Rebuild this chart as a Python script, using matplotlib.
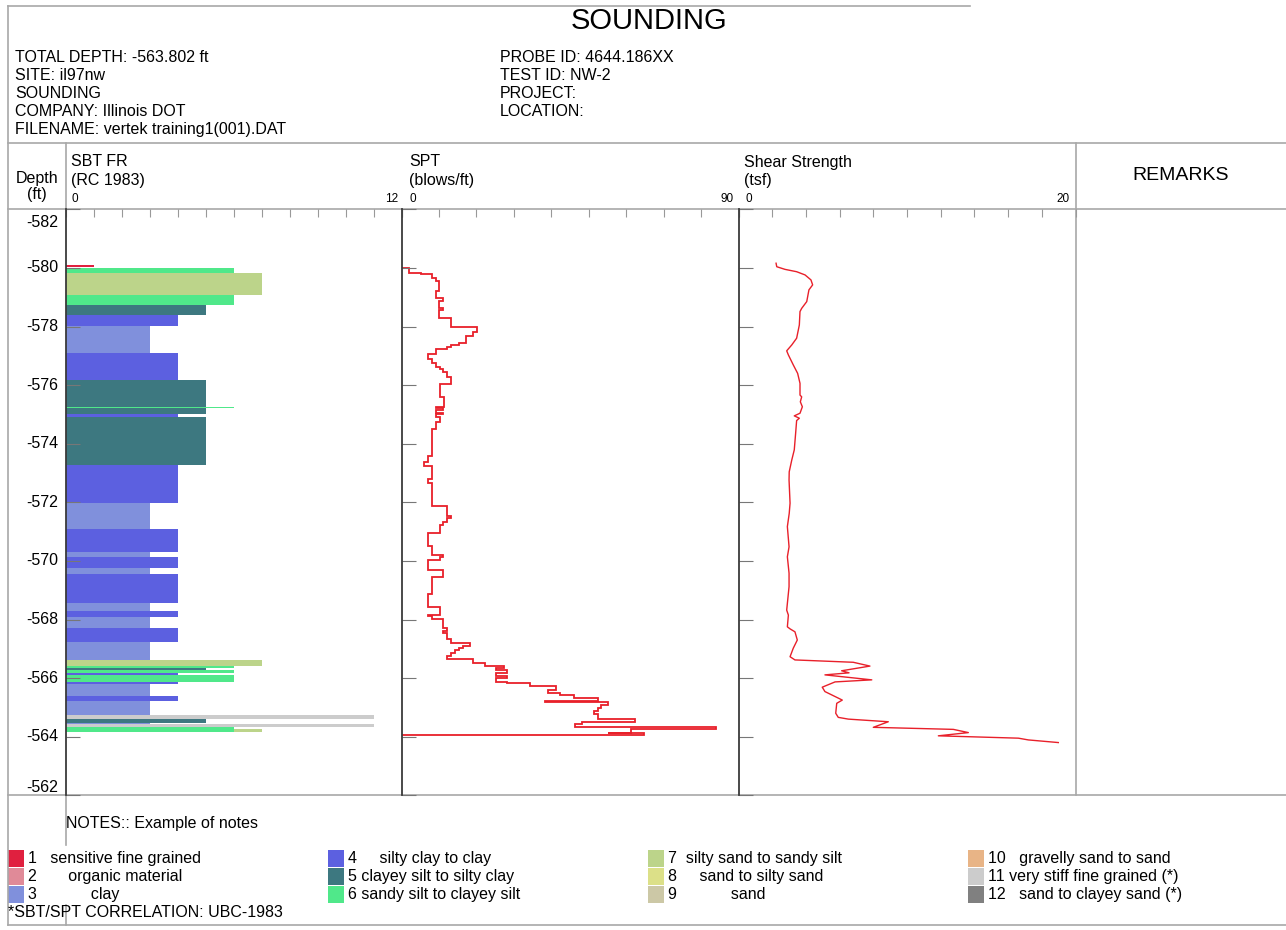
import matplotlib
matplotlib.use("Agg")
import matplotlib.pyplot as plt
from matplotlib.patches import Rectangle
import numpy as np

plt.rcParams['font.family'] = ['Liberation Sans', 'DejaVu Sans']

W, H = 1286, 930

# ---- header info
title = "SOUNDING"
info_left = ["TOTAL DEPTH: -563.802 ft", "SITE: il97nw", "SOUNDING",
             "COMPANY: Illinois DOT", "FILENAME: vertek training1(001).DAT"]
info_right = ["PROBE ID: 4644.186XX", "TEST ID: NW-2", "PROJECT:", "LOCATION:"]
notes = "NOTES:: Example of notes"
correlation = "*SBT/SPT CORRELATION: UBC-1983"

depth_ticks = list(range(-582, -561, 2))

# ---- SBT zones (top, base, zone)
sbt_top = [-580.085, -579.99, -579.82, -579.08, -578.73, -578.38, -578.03, -577.11, -576.17, -575.255,
           -575.01, -574.92, -573.28, -571.97, -571.08, -570.29, -570.14, -569.77, -569.55, -568.55,
           -568.30, -568.10, -567.70, -567.23, -566.62, -566.41, -566.34, -566.29, -566.19, -566.10,
           -565.87, -565.80, -565.40, -565.23, -564.75, -564.59, -564.48, -564.42, -564.25, -564.32]
sbt_base = [-580.015, -579.82, -579.08, -578.73, -578.38, -578.03, -577.11, -576.17, -575.01, -575.225,
            -574.92, -573.28, -571.97, -571.08, -570.29, -570.14, -569.77, -569.55, -568.55, -568.30,
            -568.10, -567.70, -567.23, -566.62, -566.41, -566.34, -566.29, -566.19, -566.10, -565.87,
            -565.80, -565.40, -565.23, -564.75, -564.59, -564.48, -564.42, -564.32, -564.16, -564.16]
sbt_zone = [1, 6, 7, 6, 5, 4, 3, 4, 5, 6,
            4, 5, 4, 3, 4, 3, 4, 3, 4, 3,
            4, 3, 4, 3, 7, 6, 5, 6, 4, 6,
            4, 3, 4, 3, 11, 5, 3, 11, 7, 6]

zone_labels = ["1   sensitive fine grained", "2       organic material", "3            clay",
               "4     silty clay to clay", "5 clayey silt to silty clay", "6 sandy silt to clayey silt",
               "7  silty sand to sandy silt", "8     sand to silty sand", "9            sand",
               "10   gravelly sand to sand", "11 very stiff fine grained (*)", "12   sand to clayey sand (*)"]
zone_colors = ['#E0203F', '#E08A98', '#8090DC', '#5C60E0', '#3D7880', '#50E88A',
               '#BCD48A', '#DCE088', '#CCC8A6', '#E8B486', '#CCCCCC', '#808080']

# ---- SPT (blows/ft), step edges in depth and values between them
spt_edges = [-579.99, -579.84, -579.79, -579.67, -579.56, -579.20, -578.96, -578.87, -578.64, -578.56,
             -578.28, -577.97, -577.82, -577.68, -577.45, -577.37, -577.29, -577.22, -577.06, -576.88,
             -576.76, -576.63, -576.54, -576.45, -576.29, -576.04, -575.60, -575.26, -575.21, -575.14,
             -575.04, -575.00, -574.92, -574.75, -574.50, -573.59, -573.37, -573.24, -572.81, -572.65,
             -571.88, -571.54, -571.47, -571.32, -571.22, -570.96, -570.51, -570.19, -570.13, -570.03,
             -569.69, -569.46, -568.86, -568.44, -568.15, -568.12, -568.01, -567.70, -567.61, -567.53,
             -567.34, -567.21, -567.10, -567.04, -566.96, -566.87, -566.76, -566.64, -566.53, -566.41,
             -566.33, -566.28, -566.16, -566.07, -565.99, -565.87, -565.82, -565.73, -565.59, -565.50,
             -565.41, -565.32, -565.23, -565.17, -565.08, -564.99, -564.89, -564.76, -564.61, -564.50,
             -564.42, -564.33, -564.25, -564.14, -564.12, -564.05]
spt_values = [2.1, 5.3, 8.2, 9.1, 10.1, 9.3, 11.2, 10.1, 11.2, 10.1,
              13.3, 20.2, 19.0, 17.1, 15.3, 13.3, 12.2, 9.3, 7.1, 8.2,
              9.3, 10.2, 11.2, 12.1, 13.3, 10.2, 11.3, 9.3, 11.2, 9.3,
              11.2, 9.3, 10.2, 9.3, 8.2, 7.1, 6.1, 8.2, 7.1, 8.2,
              12.1, 13.1, 12.1, 11.2, 10.2, 7.1, 8.2, 11.2, 10.2, 7.1,
              11.2, 8.2, 7.1, 10.2, 7.1, 8.2, 11.2, 12.1, 11.2, 12.1,
              13.1, 18.2, 16.4, 15.3, 14.2, 13.1, 12.1, 19.2, 22.2, 27.3,
              25.2, 28.3, 25.2, 28.3, 25.2, 28.3, 34.2, 41.2, 39.2, 42.2,
              46.2, 52.4, 38.4, 55.2, 53.4, 52.4, 51.4, 52.4, 62.4, 48.3,
              46.3, 83.9, 61.4, 55.2, 64.7]

# ---- Shear strength (tsf)
shear_depth = [-580.16, -580.04, -579.95, -579.87, -579.76, -579.59, -579.42, -579.25, -578.85, -578.62,
               -578.51, -578.05, -577.60, -577.37, -577.17, -577.03, -576.69, -576.40, -576.06, -575.66,
               -575.60, -575.43, -575.26, -575.04, -574.95, -574.87, -574.79, -574.35, -573.79, -573.44,
               -573.04, -572.76, -571.97, -571.62, -571.17, -570.48, -570.14, -569.58, -569.12, -568.32,
               -568.15, -567.75, -567.68, -567.58, -567.30, -567.02, -566.73, -566.62, -566.54, -566.41,
               -566.25, -566.18, -566.11, -565.94, -565.87, -565.69, -565.54, -565.25, -565.14, -564.80,
               -564.66, -564.60, -564.51, -564.32, -564.25, -564.14, -564.03, -563.95, -563.89, -563.80]
shear_values = [2.23, 2.27, 2.76, 3.45, 3.95, 4.30, 4.40, 4.18, 4.05, 3.75,
                3.65, 3.61, 3.45, 3.16, 2.86, 2.96, 3.25, 3.51, 3.65, 3.65,
                3.75, 3.67, 3.79, 3.65, 3.31, 3.61, 3.45, 3.39, 3.31, 3.16,
                3.01, 3.00, 3.06, 3.01, 2.90, 3.00, 2.90, 3.00, 3.00, 2.86,
                2.96, 2.90, 3.06, 3.35, 3.49, 3.25, 3.06, 3.35, 6.81, 7.80,
                6.12, 6.56, 5.13, 7.91, 5.73, 4.97, 5.13, 6.16, 5.83, 5.77,
                5.92, 6.52, 8.89, 8.00, 12.75, 13.64, 11.86, 16.61, 17.20, 18.98]

FRAME = '#A8A8A8'
AXIS = '#3A3A3A'
RED = '#E8202A'
FS = 11.5

fig = plt.figure(figsize=(W / 100, H / 100), dpi=100)
frame = fig.add_axes([0, 0, 1, 1])
frame.set_xlim(0, W)
frame.set_ylim(H, 0)
frame.axis('off')

# frame lines
frame.plot([8, 970], [6, 6], color=FRAME, lw=1.2)
for y in [143, 209.3, 795.3, 925]:
    frame.plot([8, W], [y, y], color=FRAME, lw=1.2)
frame.plot([8, 8], [6, 925], color=FRAME, lw=1.2)
frame.plot([66, 66], [143, 209.3], color=FRAME, lw=1.2)
frame.plot([66, 66], [795.3, 845], color=FRAME, lw=1.2)
frame.plot([66, 66], [905, 925], color=FRAME, lw=1.2)
frame.plot([1075.5, 1075.5], [143, 795.3], color=FRAME, lw=1.2)

# header texts
frame.text(649, 21, title, fontsize=21, ha='center', va='center')
for i, s in enumerate(info_left):
    frame.text(15, 58 + i * 17.8, s, fontsize=FS, va='center')
for i, s in enumerate(info_right):
    frame.text(500, 58 + i * 17.8, s, fontsize=FS, va='center')

frame.text(37, 178, "Depth", fontsize=FS, ha='center', va='center')
frame.text(37, 194, "(ft)", fontsize=FS, ha='center', va='center')
for x0, x1, t1, t2, lo, hi in [(71, 398, "SBT FR", "(RC 1983)", "0", "12"),
                                (409, 734, "SPT", "(blows/ft)", "0", "90"),
                                (744, 1070, "Shear Strength", "(tsf)", "0", "20")]:
    frame.text(x0, 162, t1, fontsize=FS, va='center')
    frame.text(x0, 180, t2, fontsize=FS, va='center')
    frame.text(x0 + 1, 199, lo, fontsize=8.5, va='center')
    frame.text(x1, 199, hi, fontsize=8.5, ha='right', va='center')
frame.text(1181, 175, "REMARKS", fontsize=14, ha='center', va='center')


def panel(x0, x1, xmax, step):
    ax = fig.add_axes([x0 / W, 1 - 795.3 / H, (x1 - x0) / W, (795.3 - 209.3) / H])
    ax.patch.set_alpha(0)
    ax.set_xlim(0, xmax)
    ax.set_ylim(-562, -582)
    for s in ['top', 'right', 'bottom']:
        ax.spines[s].set_visible(False)
    ax.spines['left'].set_color(AXIS)
    ax.spines['left'].set_linewidth(1.3)
    ax.xaxis.tick_top()
    ax.set_xticks(np.arange(0, xmax + step / 2, step))
    ax.tick_params(axis='x', direction='in', length=6, color='#999999', width=0.8, labeltop=False)
    ax.set_yticks(depth_ticks)
    ax.tick_params(axis='y', direction='in', length=10, color='#777777', width=0.8, labelleft=False)
    return ax


ax_sbt = panel(66, 401.5, 12, 1)
ax_spt = panel(401.5, 738.5, 90, 10)
ax_sh = panel(738.5, 1075.5, 20, 2)

# SBT bars
ax_sbt.barh(sbt_top, sbt_zone, height=np.array(sbt_base) - np.array(sbt_top), left=0, align='edge',
            color=[zone_colors[z - 1] for z in sbt_zone], edgecolor='none', zorder=1)

# depth labels
for d in depth_ticks:
    dy = 0
    if d == depth_ticks[0]:
        dy = -13
    elif d == depth_ticks[-1]:
        dy = 8
    ax_sbt.annotate(str(d), xy=(0, d), xycoords=('axes fraction', 'data'), xytext=(-8, dy),
                    textcoords='offset pixels', ha='right', va='center', fontsize=FS)

# SPT stairs
ax_spt.stairs(spt_values, spt_edges, orientation='horizontal', baseline=0, color=RED, lw=1.3)

# Shear strength line
ax_sh.plot(shear_values, shear_depth, color=RED, lw=1.0)

# notes and legend
frame.text(66, 823, notes, fontsize=FS, va='center')
for i, (lab, col) in enumerate(zip(zone_labels, zone_colors)):
    cx = 8 + (i // 3) * 320
    cy = 858 + (i % 3) * 18
    frame.add_patch(Rectangle((cx, cy - 8.5), 16, 17, facecolor=col, edgecolor='none'))
    frame.text(cx + 20, cy, lab, fontsize=FS, va='center')
frame.text(8, 912, correlation, fontsize=FS, va='center')

fig.savefig("out.png", dpi=100)
